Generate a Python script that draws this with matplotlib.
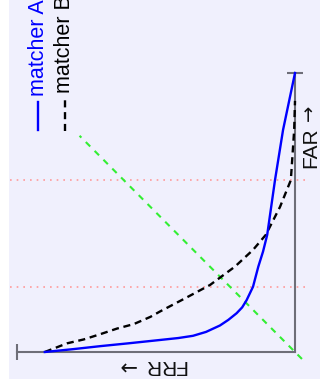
import matplotlib
matplotlib.use("Agg")
import matplotlib.pyplot as plt
from matplotlib.lines import Line2D

plt.rcParams['font.family'] = ['Liberation Sans', 'DejaVu Sans']

# matcher A (solid blue): FRR, FAR
a_frr = [0.9, 0.8, 0.7, 0.6, 0.486, 0.42, 0.367, 0.32, 0.27, 0.24, 0.21, 0.19, 0.174, 0.151, 0.132, 0.115, 0.10, 0.072, 0.043, 0.0]
a_far = [0.0, 0.01, 0.021, 0.031, 0.043, 0.05, 0.058, 0.072, 0.095, 0.115, 0.139, 0.16, 0.186, 0.234, 0.306, 0.36, 0.42, 0.616, 0.796, 1.0]
# matcher B (dashed black)
b_frr = [0.9, 0.82, 0.76, 0.70, 0.64, 0.58, 0.52, 0.486, 0.40, 0.306, 0.216, 0.151, 0.105, 0.054, 0.015, 0.003, 0.0]
b_far = [0.0, 0.031, 0.045, 0.064, 0.084, 0.10, 0.126, 0.145, 0.19, 0.24, 0.306, 0.366, 0.42, 0.52, 0.616, 0.796, 0.9]
# EER diagonal
eer = [-0.025, 0.775]
# FAR threshold lines
thr_far = [0.233, 0.616]
thr_frr_span = [1.025, -0.054]

W, H = 320, 390
fig = plt.figure(figsize=(W/100, H/100), dpi=100, facecolor='white')
ax = fig.add_axes([9/W, 11/H, 311/W, 379/H])
ax.set_facecolor('#f0f0fd')
ax.set_xlim(1.0288, -0.0899)
ax.set_ylim(-0.0968, 1.2616)

for s in ['top', 'left']:
    ax.spines[s].set_visible(False)
axcol = '#6e6e78'
ax.spines['right'].set_position(('data', 0))
ax.spines['right'].set_bounds(0, 1)
ax.spines['bottom'].set_position(('data', 0))
ax.spines['bottom'].set_bounds(0, 1)
for s in ['right', 'bottom']:
    ax.spines[s].set_color(axcol)
    ax.spines[s].set_linewidth(1.5)
    ax.spines[s].set_zorder(1)
ax.set_xticks([])
ax.set_yticks([])
# end caps
ax.plot([0], [1], marker='_', ms=12, mew=1.5, color=axcol, zorder=1)
ax.plot([1], [0], marker='|', ms=12, mew=1.5, color=axcol, zorder=1)

for f in thr_far:
    ax.plot(thr_frr_span, [f, f], color='#ff9a9a', lw=1.2, ls=(0, (1, 3)), zorder=2)
ax.plot(eer, eer, color='#33ee33', lw=1.5, ls=(0, (3, 3)), zorder=2)

ax.plot(b_frr, b_far, color='black', lw=1.7, ls=(0, (3, 2)), zorder=3)
ax.plot(a_frr, a_far, color='#0000ff', lw=1.7, zorder=4)

def fx(px):
    return px / W
def fy(py):
    return (H - py) / H

# axis labels (rotated), arrow drawn in DejaVu Sans
lab = '#111111'
fig.text(fx(311), fy(168), 'FAR', rotation=90, ha='center', va='bottom', fontsize=15, color=lab)
fig.text(fx(309), fy(121), '→', rotation=90, ha='center', va='bottom', fontsize=14, color=lab,
         family=['DejaVu Sans'])
fig.text(fx(186), fy(365), 'FRR', rotation=180, ha='right', va='center', fontsize=15, color=lab)
fig.text(fx(136), fy(365), '→', rotation=180, ha='right', va='center', fontsize=15, color=lab,
         family=['DejaVu Sans'])

# legend (rotated)
fig.add_artist(Line2D([fx(38), fx(38)], [fy(130), fy(102)], color='#0000ff', lw=1.7))
fig.text(fx(38), fy(96), 'matcher A', rotation=90, ha='center', va='bottom', fontsize=15.5, color='#0000ff')
fig.add_artist(Line2D([fx(65), fx(65)], [fy(131), fy(100)], color='black', lw=1.7, ls=(0, (3, 2))))
fig.text(fx(65), fy(93), 'matcher B', rotation=90, ha='center', va='bottom', fontsize=15.5, color='black')

fig.savefig('out.png', dpi=100, facecolor='white')
